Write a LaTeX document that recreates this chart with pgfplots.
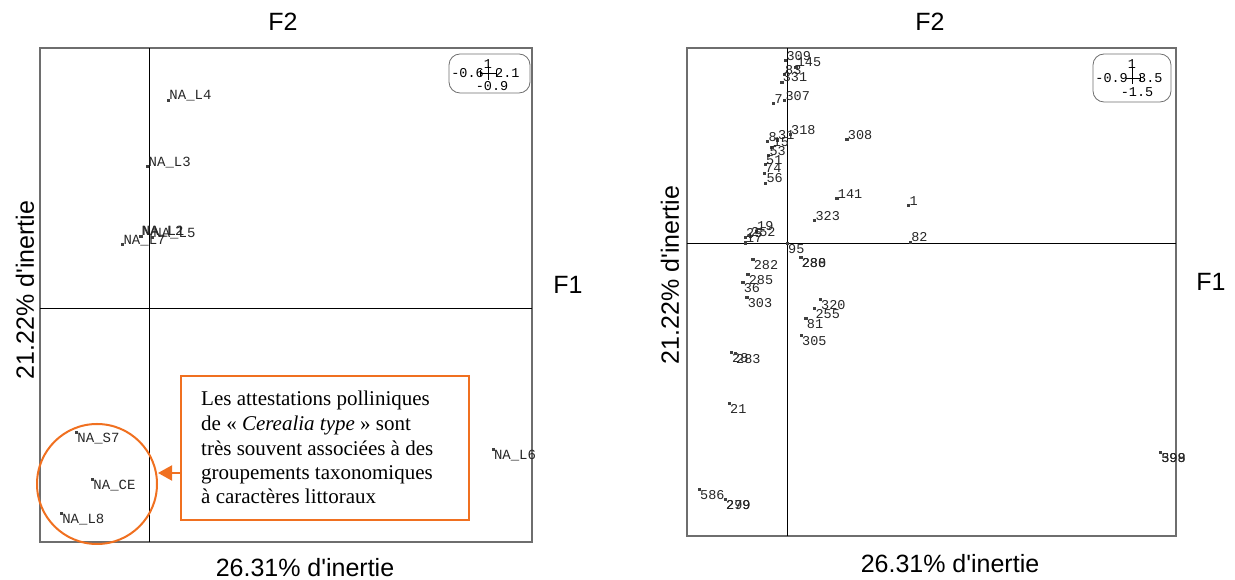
\documentclass[border=0pt]{standalone}
\usepackage{fontspec}
\setmainfont{Liberation Sans}
\newfontfamily\titlefont{Liberation Sans}
\newfontfamily\monofont{Liberation Mono}
\newfontfamily\serifont{Liberation Serif}
\usepackage{pgfplots}
\usepackage{pgfplotstable}
\pgfplotsset{compat=1.18}
\usetikzlibrary{arrows.meta}

\definecolor{callout}{RGB}{240,112,32}
\definecolor{boxgray}{RGB}{110,110,110}

% left panel (F1 x F2, variables)
\pgfplotstableread{
label x y
NA\_L4 0.104 0.800
NA\_L3 -0.010 0.546
NA\_L7 -0.148 0.246
NA\_L1 -0.045 0.277
NA\_L2 -0.049 0.277
NA\_L5 0.016 0.273
}\leftpos
\pgfplotstableread{
label x y
NA\_S7 -0.401 -0.477
NA\_CE -0.313 -0.658
NA\_L8 -0.484 -0.788
NA\_L6 1.885 -0.542
}\leftneg

% right panel (F1 x F2, samples)
\pgfplotstableread{
label x y
309 -0.015 0.937
145 0.078 0.903
83 -0.027 0.864
331 -0.048 0.826
7 -0.123 0.716
307 -0.024 0.733
8 -0.177 0.523
31 -0.090 0.530
318 0.027 0.557
15 -0.138 0.493
53 -0.168 0.451
51 -0.198 0.405
74 -0.207 0.360
56 -0.195 0.309
308 0.537 0.533
141 0.447 0.229
1 1.092 0.195
323 0.246 0.118
82 1.107 0.007
19 -0.279 0.063
25 -0.378 0.031
252 -0.333 0.035
17 -0.378 0.003
}\rightpos
\pgfplotstableread{
label x y
95 0.000 -0.002
288 0.123 -0.070
280 0.123 -0.070
282 -0.309 -0.084
285 -0.354 -0.160
36 -0.399 -0.198
303 -0.363 -0.275
320 0.297 -0.288
255 0.246 -0.335
81 0.168 -0.386
305 0.126 -0.471
28 -0.504 -0.560
283 -0.468 -0.565
21 -0.522 -0.818
586 -0.792 -1.262
299 -0.558 -1.313
279 -0.558 -1.313
598 3.357 -1.072
399 3.357 -1.072
}\rightneg

\pgfplotsset{
  pca/.style={
    scale only axis, anchor=south west, clip=false,
    xtick=\empty, ytick=\empty,
    axis line style={boxgray, line width=1.5pt},
  },
  lab/.style={
    only marks, mark=square*, mark size=1.1pt,
    mark options={black!75},
    nodes near coords, point meta=explicit symbolic,
    nodes near coords style={font=\fontsize{#1}{#1}\monofont,
      text=black!85, inner sep=1pt},
  },
}

\begin{document}
\begin{tikzpicture}[x=1pt,y=1pt]
\useasboundingbox (0,0) rectangle (1235,580);

\begin{axis}[pca, at={(40pt,38pt)}, width=492pt, height=494pt,
  xmin=-0.6, xmax=2.1, ymin=-0.9, ymax=1]
  \draw[black, line width=0.9pt] (axis cs:0,-0.9) -- (axis cs:0,1);
  \draw[black, line width=0.9pt] (axis cs:-0.6,0) -- (axis cs:2.1,0);
  \addplot[lab=14, nodes near coords style={anchor=base west}]
    table[x=x, y=y, meta=label] {\leftpos};
  \addplot[lab=14, nodes near coords style={anchor=north west}]
    table[x=x, y=y, meta=label] {\leftneg};
\end{axis}

\begin{axis}[pca, at={(687pt,44pt)}, width=489pt, height=488pt,
  xmin=-0.9, xmax=3.5, ymin=-1.5, ymax=1]
  \draw[black, line width=0.9pt] (axis cs:0,-1.5) -- (axis cs:0,1);
  \draw[black, line width=0.9pt] (axis cs:-0.9,0) -- (axis cs:3.5,0);
  \addplot[lab=13.5, nodes near coords style={anchor=base west}]
    table[x=x, y=y, meta=label] {\rightpos};
  \addplot[lab=13.5, nodes near coords style={anchor=north west}]
    table[x=x, y=y, meta=label] {\rightneg};
\end{axis}

% scale boxes
\begin{scope}[font=\fontsize{13.5}{14}\monofont]
  \draw[boxgray, line width=0.8pt, rounded corners=11pt] (449,487) rectangle (530,526);
  \node[anchor=base] at (488,511) {1};
  \node[anchor=base east, inner sep=0pt] at (484,502) {-0.6};
  \node[anchor=base west, inner sep=0pt] at (495,502) {2.1};
  \node[anchor=base, inner sep=0pt] at (492,489) {-0.9};
  \draw[black] (480,507) -- (496,507) (480,504) -- (480,510) (496,504) -- (496,510)
    (488,500) -- (488,514);
  \draw[boxgray, line width=0.8pt, rounded corners=11pt] (1093,478) rectangle (1171,526);
  \node[anchor=base] at (1132,511) {1};
  \node[anchor=base east, inner sep=0pt] at (1128,497) {-0.9};
  \node[anchor=base west, inner sep=0pt] at (1138,497) {3.5};
  \node[anchor=base, inner sep=0pt] at (1137,483) {-1.5};
  \draw[black] (1126,502) -- (1140,502) (1140,499) -- (1140,505)
    (1132,496) -- (1132,512);
\end{scope}

% axis titles
\begin{scope}[font=\fontsize{25}{25}\titlefont]
  \node at (283,558) {F2};
  \node at (568,295) {F1};
  \node[rotate=90] at (25,290) {21.22\% d'inertie};
  \node at (305,12) {26.31\% d'inertie};
  \node at (930,558) {F2};
  \node at (1211,298) {F1};
  \node[rotate=90] at (670,305) {21.22\% d'inertie};
  \node at (950,16) {26.31\% d'inertie};
\end{scope}

% callout
\draw[callout, line width=2pt] (97,96) circle (60);
\draw[callout, line width=2pt] (181,60) rectangle (469,204);
\draw[callout, line width=2pt, -{Triangle[length=14pt,width=15pt]}] (181,107) -- (158,107);
\begin{scope}[every node/.style={anchor=base west, inner sep=0pt,
    font=\fontsize{21}{24.6}\serifont}]
  \node at (201,174) {Les attestations polliniques};
  \node at (201,149) {de « \textit{Cerealia type} » sont};
  \node at (201,124) {très souvent associées à des};
  \node at (201,100) {groupements taxonomiques};
  \node at (201,76) {à caractères littoraux};
\end{scope}
\end{tikzpicture}
\end{document}
